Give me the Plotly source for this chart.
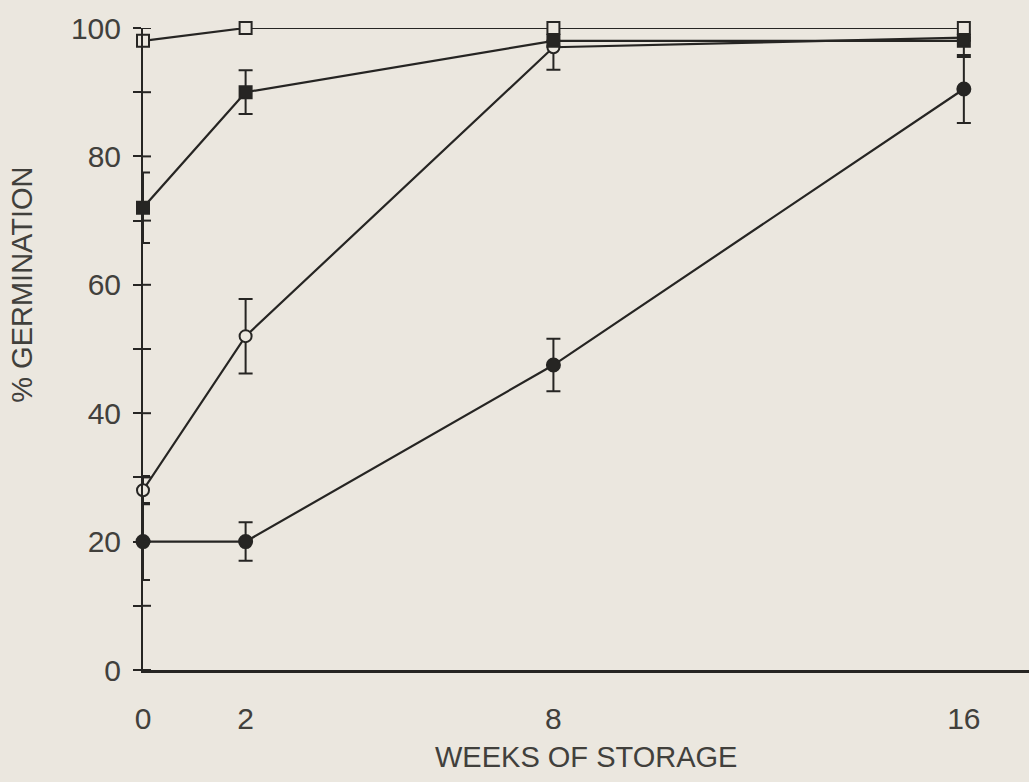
import plotly.graph_objects as go

# Weeks of storage and mean % germination (± error) for four seed lots
weeks = [0, 2, 8, 16]

open_square = [98, 100, 100, 100]

filled_square = [72, 90, 98, 98]
filled_square_err = [5.5, 3.4, 0, 0]

open_circle = [28, 52, 97, 98.5]
open_circle_err = [2.2, 5.8, 3.5, 3]

filled_circle = [20, 20, 47.5, 90.5]
filled_circle_err = [6, 3, 4.1, 5.3]

x_ticks = [0, 2, 8, 16]
y_ticks = list(range(0, 101, 10))
y_tick_text = [str(v) if v % 20 == 0 else "" for v in y_ticks]

INK = "#262523"
TEXT = "#41403c"
BG = "#ebe7df"
FONT = "Liberation Sans, Arial, sans-serif"

PLOT_W = 886  # plot area width in px, used for tick length in domain units
TICK_PX = 8

fig = go.Figure()


def add_series(y, err, symbol, fill, size):
    fig.add_trace(go.Scatter(
        x=weeks, y=y,
        mode="lines+markers",
        line=dict(color=INK, width=2.2),
        marker=dict(symbol=symbol, size=size, color=fill,
                    line=dict(color=INK, width=2)),
        error_y=dict(type="data", array=err, visible=err is not None,
                     color=INK, thickness=2, width=7),
        cliponaxis=False,
        showlegend=False,
    ))


add_series(filled_circle, filled_circle_err, "circle", INK, 13)
add_series(open_circle, open_circle_err, "circle", BG, 12)
add_series(filled_square, filled_square_err, "square", INK, 12)
add_series(open_square, None, "square", BG, 12)

# inner half of the y-axis ticks, so each tick crosses the axis line
for v in y_ticks:
    fig.add_shape(type="line", xref="x domain", yref="y",
                  x0=0, x1=TICK_PX / PLOT_W, y0=v, y1=v,
                  line=dict(color=INK, width=2), layer="above")

fig.add_annotation(text="% GERMINATION", textangle=-90,
                   xref="paper", yref="paper", x=-0.1366, y=0.60,
                   xanchor="center", yanchor="middle", showarrow=False,
                   font=dict(size=29, color=TEXT))
fig.add_annotation(text="WEEKS OF STORAGE",
                   xref="paper", yref="paper", x=0.5, y=-0.1355,
                   xanchor="center", yanchor="middle", showarrow=False,
                   font=dict(size=29, color=TEXT))

fig.update_layout(
    width=1029, height=782,
    margin=dict(l=143, r=0, t=28, b=112),
    paper_bgcolor=BG, plot_bgcolor=BG,
    font=dict(family=FONT, color=TEXT, size=30),
    xaxis=dict(
        range=[0, 17.27], tickvals=x_ticks, ticktext=[str(v) for v in x_ticks],
        showgrid=False, zeroline=False, showline=True,
        linecolor=INK, linewidth=3, ticks="", ticklabelstandoff=20,
        tickfont=dict(size=30, color=TEXT),
    ),
    yaxis=dict(
        range=[0, 100], tickvals=y_ticks, ticktext=y_tick_text,
        showgrid=False, zeroline=False, showline=True,
        linecolor=INK, linewidth=2, ticks="outside", ticklen=TICK_PX,
        tickwidth=2, tickcolor=INK, ticklabelstandoff=6,
        tickfont=dict(size=30, color=TEXT),
    ),
)

fig.write_html("out.html")
